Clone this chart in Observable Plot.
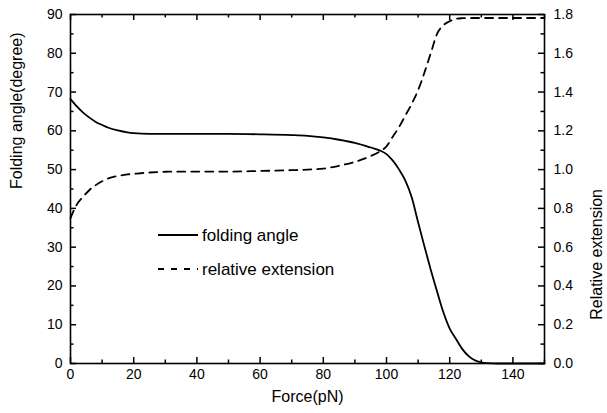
<!DOCTYPE html>
<html>
<head>
<meta charset="utf-8">
<script src="https://cdn.jsdelivr.net/npm/d3@7"></script>
<script src="https://cdn.jsdelivr.net/npm/@observablehq/plot@0.6"></script>
<style>
  html, body { margin: 0; padding: 0; background: #fff; }
  #wrap { position: relative; width: 607px; height: 413px; font-family: Arial, "Liberation Sans", sans-serif; }
  #overlay { position: absolute; left: 0; top: 0; pointer-events: none; }
</style>
</head>
<body>
<div id="wrap"></div>
<script>
// Force (pN)
const force = [0,2,4,6,8,10,12,15,18,20,25,30,40,50,60,70,75,80,85,90,95,98,100,102,104,106,108,110,112,114,116,118,120,122,124,126,128,130,132,135,140,150];
// Folding angle (degree)
const foldingAngle = [68.2,66.3,64.7,63.4,62.3,61.5,60.8,60.1,59.6,59.4,59.2,59.2,59.2,59.2,59.1,58.9,58.7,58.3,57.7,56.9,55.7,54.9,54.0,52.3,50.0,47.1,42.8,36.4,30.2,24.2,18.6,13.2,9.0,6.3,3.7,1.9,0.8,0.3,0.1,0,0,0];
// Relative extension
const relExtension = [0.75,0.82,0.86,0.895,0.92,0.94,0.955,0.967,0.975,0.978,0.985,0.989,0.99,0.99,0.993,0.997,1.0,1.005,1.02,1.04,1.07,1.095,1.12,1.17,1.22,1.28,1.34,1.41,1.50,1.60,1.70,1.745,1.765,1.778,1.781,1.782,1.782,1.782,1.782,1.782,1.782,1.782];

const xMajor = [0,20,40,60,80,100,120,140];
const xMinor = [10,30,50,70,90,110,130,150];
const yMajor = [0,10,20,30,40,50,60,70,80,90];
const yMinor = [5,15,25,35,45,55,65,75,85];
const extMajor = [0.0,0.2,0.4,0.6,0.8,1.0,1.2,1.4,1.6,1.8];
const extMinor = [0.1,0.3,0.5,0.7,0.9,1.1,1.3,1.5,1.7];

const seriesNames = ["folding angle", "relative extension"];
const xLabel = "Force(pN)";
const yLabel = "Folding angle(degree)";
const y2Label = "Relative extension";

const S = 90 / 1.8; // right axis -> left axis scale factor
const W = 607, H = 413;
const mL = 70, mR = 63, mT = 14, mB = 50;
const pw = W - mL - mR, ph = H - mT - mB;
const MAJ = 6, MIN = 3.5;
const TW = 1.5;

const angleData = force.map((f, i) => ({f, v: foldingAngle[i]}));
const extData = force.map((f, i) => ({f, v: relExtension[i] * S}));

const chart = Plot.plot({
  width: W, height: H,
  marginLeft: mL, marginRight: mR, marginTop: mT, marginBottom: mB,
  style: {fontFamily: 'Arial, "Liberation Sans", sans-serif', fontSize: "14px", background: "#fff", color: "#000"},
  x: {domain: [0, 150]},
  y: {domain: [0, 90]},
  marks: [
    Plot.line(angleData, {x: "f", y: "v", stroke: "#000", strokeWidth: 1.8, curve: "monotone-x"}),
    Plot.line(extData, {x: "f", y: "v", stroke: "#000", strokeWidth: 1.8, strokeDasharray: "8,6", curve: "monotone-x"}),
    Plot.frame({stroke: "#000", strokeWidth: 1.6}),
    // inward ticks: bottom, top, left, right
    Plot.tickX(xMajor, {x: d => d, insetTop: ph - MAJ, stroke: "#000", strokeWidth: TW}),
    Plot.tickX(xMinor, {x: d => d, insetTop: ph - MIN, stroke: "#000", strokeWidth: TW}),
    Plot.tickX(xMajor, {x: d => d, insetBottom: ph - MAJ, stroke: "#000", strokeWidth: TW}),
    Plot.tickX(xMinor, {x: d => d, insetBottom: ph - MIN, stroke: "#000", strokeWidth: TW}),
    Plot.tickY(yMajor, {y: d => d, insetRight: pw - MAJ, stroke: "#000", strokeWidth: TW}),
    Plot.tickY(yMinor, {y: d => d, insetRight: pw - MIN, stroke: "#000", strokeWidth: TW}),
    Plot.tickY(extMajor, {y: d => d * S, insetLeft: pw - MAJ, stroke: "#000", strokeWidth: TW}),
    Plot.tickY(extMinor, {y: d => d * S, insetLeft: pw - MIN, stroke: "#000", strokeWidth: TW}),
    // tick labels
    Plot.axisX(xMajor, {tickSize: 0, tickPadding: 6, label: null, fontSize: 14}),
    Plot.axisY(yMajor, {anchor: "left", tickSize: 0, tickPadding: 8, label: null, fontSize: 14}),
    Plot.axisY(extMajor.map(d => d * S), {anchor: "right", tickSize: 0, tickPadding: 9, label: null, fontSize: 14, tickFormat: d => (d / S).toFixed(1)}),
    // axis titles
    Plot.text([xLabel], {text: d => d, frameAnchor: "bottom", dy: 38, fontSize: 16}),
    Plot.text([yLabel], {text: d => d, frameAnchor: "left", dx: -54, rotate: -90, fontSize: 16}),
    Plot.text([y2Label], {text: d => d, frameAnchor: "right", dx: 52, rotate: -90, fontSize: 16})
  ]
});

const wrap = document.getElementById("wrap");
wrap.appendChild(chart);

// Legend overlay
const ns = "http://www.w3.org/2000/svg";
const ov = document.createElementNS(ns, "svg");
ov.setAttribute("id", "overlay");
ov.setAttribute("width", W);
ov.setAttribute("height", H);
const items = [
  {name: seriesNames[0], dash: null, y: 235},
  {name: seriesNames[1], dash: "6,7", y: 269}
];
items.forEach(it => {
  const ln = document.createElementNS(ns, "line");
  ln.setAttribute("x1", 158); ln.setAttribute("x2", 198);
  ln.setAttribute("y1", it.y); ln.setAttribute("y2", it.y);
  ln.setAttribute("stroke", "#000"); ln.setAttribute("stroke-width", 1.8);
  if (it.dash) ln.setAttribute("stroke-dasharray", it.dash);
  ov.appendChild(ln);
  const tx = document.createElementNS(ns, "text");
  tx.setAttribute("x", 202); tx.setAttribute("y", it.y);
  tx.setAttribute("dy", "0.35em");
  tx.setAttribute("font-size", "17px");
  tx.setAttribute("font-family", 'Arial, "Liberation Sans", sans-serif');
  tx.textContent = it.name;
  ov.appendChild(tx);
});
wrap.appendChild(ov);
</script>
</body>
</html>
